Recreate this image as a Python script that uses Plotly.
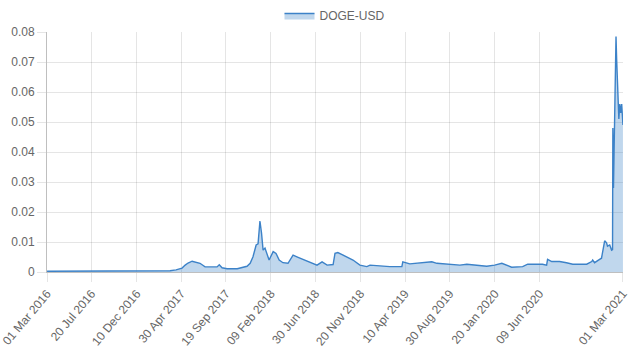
import plotly.graph_objects as go

dates = [
    "2016-03-01", "2016-10-19", "2017-03-11", "2017-03-26", "2017-04-14", "2017-05-03",
    "2017-05-13", "2017-05-22", "2017-06-04", "2017-06-20", "2017-06-29", "2017-07-15",
    "2017-08-06", "2017-08-22", "2017-08-29", "2017-09-07", "2017-09-23", "2017-10-25",
    "2017-11-25", "2017-12-05", "2017-12-14", "2017-12-24", "2017-12-30", "2018-01-05",
    "2018-01-10", "2018-01-15", "2018-01-21", "2018-01-27", "2018-02-03", "2018-02-16",
    "2018-02-25", "2018-03-07", "2018-03-19", "2018-04-04", "2018-04-20", "2018-05-06",
    "2018-05-22", "2018-06-13", "2018-07-05", "2018-07-21", "2018-08-06", "2018-08-25",
    "2018-08-31", "2018-09-09", "2018-09-25", "2018-10-08", "2018-10-27", "2018-11-18",
    "2018-12-10", "2018-12-20", "2019-01-21", "2019-02-21", "2019-03-31", "2019-04-03",
    "2019-04-25", "2019-05-27", "2019-07-04", "2019-07-20", "2019-08-21", "2019-10-01",
    "2019-10-23", "2019-11-24", "2019-12-25", "2020-01-19", "2020-02-11", "2020-03-13",
    "2020-04-17", "2020-05-03", "2020-06-19", "2020-07-02", "2020-07-05", "2020-07-18",
    "2020-08-12", "2020-09-03", "2020-09-23", "2020-11-06", "2020-11-22", "2020-11-25",
    "2020-12-01", "2020-12-17", "2020-12-23", "2021-01-02", "2021-01-08", "2021-01-11",
    "2021-01-18", "2021-01-24", "2021-01-27", "2021-01-28", "2021-01-30", "2021-02-01",
    "2021-02-03", "2021-02-05", "2021-02-07", "2021-02-09", "2021-02-11", "2021-02-14",
    "2021-02-16", "2021-02-19", "2021-02-22", "2021-02-25", "2021-02-28", "2021-03-01",
]
prices = [
    0.00024, 0.00022, 0.00030, 0.00040, 0.00070, 0.0013,
    0.0023, 0.0030, 0.0036, 0.0032, 0.0029, 0.0017,
    0.0017, 0.0017, 0.0024, 0.0014, 0.0011, 0.0011,
    0.0019, 0.0029, 0.0051, 0.0090, 0.0094, 0.0170,
    0.0130, 0.0073, 0.0080, 0.0062, 0.0040, 0.0068,
    0.0062, 0.0040, 0.0031, 0.0029, 0.0056, 0.0049,
    0.0042, 0.0032, 0.0023, 0.0034, 0.0023, 0.0025,
    0.0062, 0.0065, 0.0057, 0.0050, 0.0040, 0.0023,
    0.0018, 0.0023, 0.0020, 0.0018, 0.0018, 0.0034,
    0.0027, 0.0030, 0.0034, 0.0029, 0.0026, 0.0023,
    0.0026, 0.0023, 0.0019, 0.0023, 0.0029, 0.0016,
    0.0018, 0.0026, 0.0026, 0.0023, 0.0042, 0.0035,
    0.0035, 0.0031, 0.0026, 0.0026, 0.0035, 0.0040,
    0.0031, 0.0042, 0.0046, 0.0104, 0.0097, 0.0086,
    0.0090, 0.0073, 0.0075, 0.048, 0.028, 0.041,
    0.053, 0.056, 0.0785, 0.071, 0.065, 0.059,
    0.051, 0.056, 0.053, 0.056, 0.050, 0.049,
]

tick_dates = ["2016-03-01", "2016-07-20", "2016-12-10", "2017-04-30", "2017-09-19",
              "2018-02-09", "2018-06-30", "2018-11-20", "2019-04-10", "2019-08-30",
              "2020-01-20", "2020-06-09", "2021-03-01"]
tick_labels = ["01 Mar 2016", "20 Jul 2016", "10 Dec 2016", "30 Apr 2017", "19 Sep 2017",
               "09 Feb 2018", "30 Jun 2018", "20 Nov 2018", "10 Apr 2019", "30 Aug 2019",
               "20 Jan 2020", "09 Jun 2020", "01 Mar 2021"]
y_ticks = [0, 0.01, 0.02, 0.03, 0.04, 0.05, 0.06, 0.07, 0.08]
y_labels = ["0", "0.01", "0.02", "0.03", "0.04", "0.05", "0.06", "0.07", "0.08"]

line_color = "rgb(60,130,200)"
fill_color = "rgba(60,130,200,0.32)"
font_family = "Liberation Sans, Arial, sans-serif"

fig = go.Figure()
fig.add_trace(go.Scatter(
    x=dates, y=prices, name="DOGE-USD", mode="lines",
    line=dict(color=line_color, width=1.4),
    fill="tozeroy", fillcolor=fill_color,
))

fig.update_layout(
    width=630, height=354,
    margin=dict(l=47, r=7, t=32, b=82),
    paper_bgcolor="white", plot_bgcolor="white",
    font=dict(family=font_family, size=12, color="#666"),
    showlegend=True,
    legend=dict(orientation="h", x=0.5, xanchor="center", y=0.997, yanchor="top",
                yref="container", font=dict(size=12, color="#666"),
                bgcolor="rgba(0,0,0,0)"),
    xaxis=dict(
        type="date", range=["2016-02-29 20:00", "2021-03-01 04:00"],
        automargin=False, ticklabeloverflow="allow",
        tickmode="array", tickvals=tick_dates, ticktext=tick_labels,
        tickangle=-50, showgrid=True, gridcolor="rgba(0,0,0,0.1)", gridwidth=1,
        ticks="outside", ticklen=9, tickcolor="rgba(0,0,0,0.1)",
        showline=True, linecolor="rgba(0,0,0,0.25)", linewidth=1,
        zeroline=False, tickfont=dict(size=12, color="#666"),
    ),
    yaxis=dict(
        range=[0, 0.08], tickmode="array", tickvals=y_ticks, ticktext=y_labels,
        automargin=False,
        showgrid=True, gridcolor="rgba(0,0,0,0.1)", gridwidth=1,
        ticks="outside", ticklen=9, tickcolor="rgba(0,0,0,0.1)",
        showline=True, linecolor="rgba(0,0,0,0.25)", linewidth=1,
        zeroline=False, tickfont=dict(size=12, color="#666"),
    ),
)

fig.write_html("out.html")
